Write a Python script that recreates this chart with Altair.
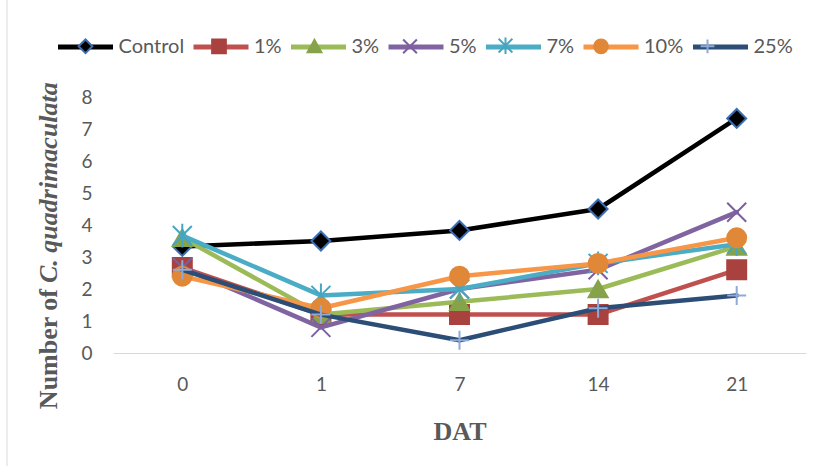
import altair as alt
import pandas as pd

# Sampling days (days after treatment) and treatment series
days = ["0", "1", "7", "14", "21"]
series = ["Control", "1%", "3%", "5%", "7%", "10%", "25%"]

control = [3.33, 3.5, 3.83, 4.5, 7.33]
conc_1 = [2.67, 1.2, 1.2, 1.2, 2.6]
conc_3 = [3.6, 1.2, 1.6, 2.0, 3.33]
conc_5 = [2.67, 0.8, 2.0, 2.6, 4.4]
conc_7 = [3.67, 1.8, 2.0, 2.8, 3.4]
conc_10 = [2.4, 1.4, 2.4, 2.8, 3.6]
conc_25 = [2.6, 1.2, 0.4, 1.4, 1.8]

y_ticks = [0, 1, 2, 3, 4, 5, 6, 7, 8]

line_colors = ["#000000", "#c0504d", "#9bbb59", "#8064a2", "#4bacc6", "#f79646", "#2c4d75"]
marker_fills = ["#000000", "#a9423f", "#86a34a", "#7d5fa0", "#46a5c2", "#e08838", "#8eaadb"]
marker_strokes = ["#3c6eb4", "#a9423f", "#86a34a", "#7d5fa0", "#46a5c2", "#e08838", "#8eaadb"]

# marker shapes on the plot (unit square paths)
X_PATH = "M-1,-1L1,1M-1,1L1,-1"
STAR_PATH = "M-1,-1L1,1M-1,1L1,-1M0,-1.25L0,1.25"
PLUS_PATH = "M-1,0L1,0M0,-1L0,1"
plot_shapes = ["diamond", "square", "triangle-up", X_PATH, STAR_PATH, "circle", PLUS_PATH]


def f(v):
    return f"{v:.3f}"


def legend_paths(k):
    """Small marker paths for the legend, padded to the width of the legend line."""
    pad = "M-1.055,0L-1.055,0M1.055,0L1.055,0"
    diamond = f"M{f(-k)},0L0,{f(-k)}L{f(k)},0L0,{f(k)}Z"
    square = f"M{f(-k)},{f(-k)}L{f(k)},{f(-k)}L{f(k)},{f(k)}L{f(-k)},{f(k)}Z"
    tri = f"M0,{f(-k)}L{f(k)},{f(0.8 * k)}L{f(-k)},{f(0.8 * k)}Z"
    x = f"M{f(-k)},{f(-k)}L{f(k)},{f(k)}M{f(-k)},{f(k)}L{f(k)},{f(-k)}"
    star = x + f"M0,{f(-1.2 * k)}L0,{f(1.2 * k)}"
    circ = f"M{f(-k)},0A{f(k)},{f(k)} 0 1,1 {f(k)},0A{f(k)},{f(k)} 0 1,1 {f(-k)},0Z"
    plus = f"M{f(-k)},0L{f(k)},0M0,{f(-k)}L0,{f(k)}"
    return [pad + p for p in [diamond, square, tri, x, star, circ, plus]]


values = [control, conc_1, conc_3, conc_5, conc_7, conc_10, conc_25]
rows = []
for name, vals in zip(series, values):
    for d, v in zip(days, vals):
        rows.append({"series": name, "day": d, "value": v})
df = pd.DataFrame(rows)

TEXT_GRAY = "#595959"
LEG_X, LEG_Y = -57.5, -80
SYM = 3025
COL_PAD = -1.5
LEG_FONT = 20

x_enc = alt.X(
    "day:O", sort=days,
    scale=alt.Scale(type="point", padding=0.5),
    axis=alt.Axis(
        title="DAT", titleFont="Liberation Serif", titleFontSize=26,
        titleFontWeight="bold", titleColor=TEXT_GRAY, titlePadding=24,
        labelFont="Lato", labelFontSize=19, labelColor=TEXT_GRAY,
        labelPadding=22, labelAngle=0, ticks=False, tickSize=0,
        domainColor="#d9d9d9", domainWidth=1, grid=False,
    ),
)
y_enc = alt.Y(
    "value:Q",
    scale=alt.Scale(domain=[0, 8]),
    axis=alt.Axis(
        title=None, values=y_ticks, grid=False, domain=False, ticks=False,
        tickSize=0, labelFont="Lato", labelFontSize=19, labelColor=TEXT_GRAY,
        labelPadding=21,
    ),
)

line_legend = alt.Legend(
    orient="none", legendX=LEG_X, legendY=LEG_Y, direction="horizontal",
    title=None, symbolType="stroke", symbolSize=SYM, symbolStrokeWidth=5,
    labelFont="Lato", labelFontSize=LEG_FONT, labelColor=TEXT_GRAY,
    labelOffset=3, columnPadding=COL_PAD, padding=0, symbolOpacity=1,
)
marker_legend = alt.Legend(
    orient="none", legendX=LEG_X, legendY=LEG_Y, direction="horizontal",
    title=None, symbolSize=SYM, symbolStrokeWidth=2, symbolOffset=1.5,
    labelFont="Lato", labelFontSize=LEG_FONT, labelColor=TEXT_GRAY, labelOpacity=0,
    labelOffset=6, columnPadding=COL_PAD, padding=0, symbolOpacity=1,
)

color_enc = alt.Color("series:N", scale=alt.Scale(domain=series, range=line_colors), legend=line_legend)
fill_enc = alt.Fill("series:N", scale=alt.Scale(domain=series, range=marker_fills), legend=None)
stroke_enc = alt.Stroke("series:N", scale=alt.Scale(domain=series, range=marker_strokes), legend=None)
shape_enc = alt.Shape("series:N", scale=alt.Scale(domain=series, range=plot_shapes), legend=None)

# each series draws its line then its markers, in series order
layers = []
for name in series:
    base = alt.Chart(df).transform_filter(alt.datum.series == name)
    layers.append(
        base.mark_line(strokeWidth=4.5, strokeCap="round", strokeJoin="round").encode(
            x=x_enc, y=y_enc, color=color_enc
        )
    )
    layers.append(
        base.mark_point(filled=True, size=360, opacity=1, strokeWidth=2).encode(
            x=x_enc, y=y_enc, fill=fill_enc, stroke=stroke_enc, shape=shape_enc
        )
    )
plot = alt.layer(*layers)

# legend markers drawn over the legend lines
legend_marks = alt.Chart(df).transform_filter("false").mark_point(
    filled=True, size=SYM, opacity=1, strokeWidth=2
).encode(
    x=x_enc, y=y_enc,
    fill=alt.Fill("series:N", scale=alt.Scale(domain=series, range=marker_fills), legend=marker_legend),
    stroke=alt.Stroke("series:N", scale=alt.Scale(domain=series, range=marker_strokes), legend=marker_legend),
    shape=alt.Shape("series:N", scale=alt.Scale(domain=series, range=legend_paths(0.25)), legend=marker_legend),
)

one = alt.InlineData(values=[{"k": 0}])
title_style = dict(angle=270, baseline="alphabetic", font="Liberation Serif",
                   fontSize=26, fontWeight="bold", color=TEXT_GRAY)
y_title_a = alt.Chart(one).mark_text(text="Number of", align="right", **title_style).encode(
    x=alt.value(-56), y=alt.value(192)
)
y_title_b = alt.Chart(one).mark_text(text="C. quadrimaculata", align="left", fontStyle="italic",
                                     **title_style).encode(
    x=alt.value(-56), y=alt.value(186)
)

frame = alt.Chart(one).mark_rule(color="#d9d9d9", strokeWidth=1).encode(
    x=alt.value(-106), y=alt.value(-97), y2=alt.value(369)
)

chart = alt.layer(frame, plot, legend_marks, y_title_a, y_title_b).resolve_scale(
    fill="independent", stroke="independent", shape="independent"
).properties(
    width=693, height=256,
    autosize=alt.AutoSizeParams(type="none"),
    padding={"left": 113, "top": 97, "right": 18, "bottom": 113},
).configure(background="white").configure_view(stroke=None)

chart.save("out.html", embed_options={"renderer": "svg", "actions": False})
